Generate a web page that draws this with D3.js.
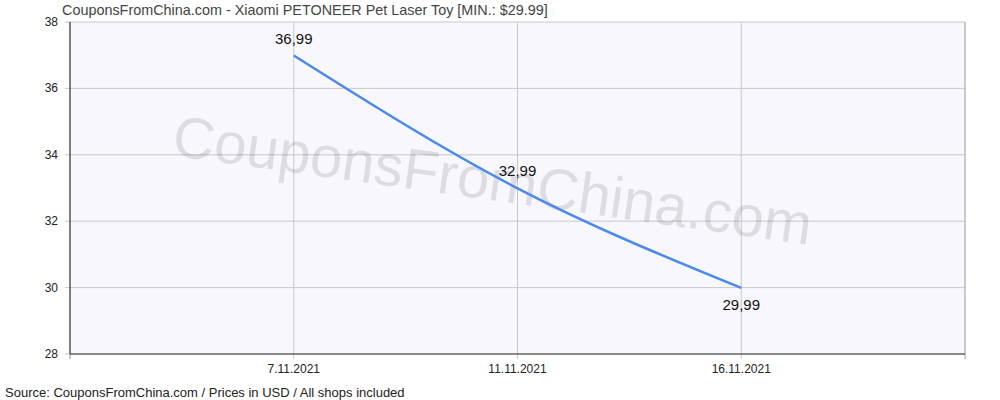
<!DOCTYPE html><html><head><meta charset="utf-8"><script src="https://cdn.jsdelivr.net/npm/d3@7"></script>
<style>body{margin:0;background:#fff}text{font-family:Arial,"Liberation Sans",sans-serif}</style></head><body><svg id="c" width="1000" height="400"></svg><script>
const categories=["7.11.2021","11.11.2021","16.11.2021"];
const prices=[36.99,32.99,29.99];
const priceLabels=["36,99","32,99","29,99"];
const yTicks=[28,30,32,34,36,38];
const svg=d3.select("#c");
const L=70,R=965,T=22,B=354;
const x=d3.scaleLinear().domain([0,4]).range([L,R]);
const y=d3.scaleLinear().domain([28,38]).range([B,T]);
svg.append("rect").attr("x",L).attr("y",T).attr("width",R-L).attr("height",B-T).attr("fill","#f7f7fd");
yTicks.forEach(t=>{svg.append("line").attr("x1",L-5).attr("x2",R).attr("y1",y(t)).attr("y2",y(t)).attr("stroke","#c8c8c8");
svg.append("text").attr("x",L-12).attr("y",y(t)+4).attr("text-anchor","end").attr("font-size",12).attr("fill","#222").text(t);});
categories.forEach((c,i)=>{const X=x(i+1);svg.append("line").attr("x1",X).attr("x2",X).attr("y1",T).attr("y2",B+5).attr("stroke","#c8c8c8");
svg.append("text").attr("x",X).attr("y",B+19).attr("text-anchor","middle").attr("font-size",12).attr("fill","#222").text(c);});
[L,R].forEach(X=>svg.append("line").attr("x1",X).attr("x2",X).attr("y1",T).attr("y2",B+5).attr("stroke","#999"));
svg.append("line").attr("x1",L).attr("x2",R).attr("y1",B).attr("y2",B).attr("stroke","#333");
svg.append("line").attr("x1",L).attr("x2",L).attr("y1",T).attr("y2",B).attr("stroke","#333");
svg.append("text").attr("x",490).attr("y",200).attr("text-anchor","middle").attr("font-size",58).attr("fill","#000").attr("opacity",0.1)
 .attr("transform","rotate(8,490,200)").text("CouponsFromChina.com");
svg.append("path").datum(prices).attr("d",d3.line().x((d,i)=>x(i+1)).y(d=>y(d)).curve(d3.curveMonotoneX)).attr("fill","none").attr("stroke","#4a8af0").attr("stroke-width",2.5);
const off=[-12,-12,22];
prices.forEach((p,i)=>svg.append("text").attr("x",x(i+1)).attr("y",y(p)+off[i]).attr("text-anchor","middle").attr("font-size",15).attr("fill","#111").text(priceLabels[i]));
svg.append("text").attr("x",62).attr("y",15).attr("font-size",14.4).attr("fill","#444").text("CouponsFromChina.com - Xiaomi PETONEER Pet Laser Toy [MIN.: $29.99]");
svg.append("text").attr("x",5).attr("y",397).attr("font-size",13).attr("fill","#222").text("Source: CouponsFromChina.com / Prices in USD / All shops included");
</script></body></html>
